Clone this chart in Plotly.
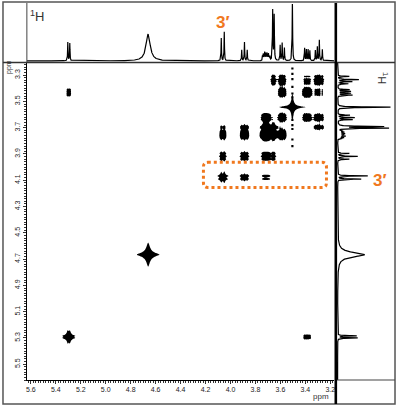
import numpy as np
import plotly.graph_objects as go

# ---------------- data ----------------
site_names = ["H-1", "HOD", "H-3'", "H-a", "H-b", "H-c", "H-d", "H-e", "H-f", "H-g"]
f2_shift = [5.296, 4.660, 4.062, 3.888, 3.712, 3.656, 3.584, 3.504, 3.384, 3.292]   # ppm, horizontal (F2)
f1_shift = [5.292, 4.666, 4.079, 3.918, 3.750, 3.697, 3.621, 3.544, 3.430, 3.338]   # ppm, vertical (F1)

mult_offsets = [
    [0.008, -0.008],
    [0.0],
    [0.012, -0.012],
    [0.022, 0.0, -0.022],
    [0.032, 0.026, 0.020, 0.014, 0.008, 0.002, -0.004, -0.010, -0.016, -0.022, -0.028],
    [0.006, -0.006],
    [0.018, 0.002, -0.016],
    [0.0],
    [0.022, 0.008, -0.006, -0.020],
    [0.028, 0.012, -0.004, -0.028],
]
mult_heights = [
    [1.0, 0.95],
    [1.0],
    [0.78, 1.0],
    [0.58, 1.0, 0.58],
    [0.6, 0.8, 0.7, 1.0, 0.85, 0.75, 0.9, 0.7, 0.8, 0.6, 0.5],
    [1.0, 0.9],
    [0.88, 1.0, 0.72],
    [1.0],
    [1.0, 0.88, 0.88, 0.8],
    [0.5, 0.68, 1.0, 0.55],
]
top_height = [0.33, 0.47, 0.51, 0.33, 0.16, 0.91, 0.32, 1.05, 0.23, 0.37]
side_height = [0.35, 0.47, 0.53, 0.35, 0.14, 0.90, 0.30, 0.92, 0.26, 0.37]
linewidth_1d = [0.002, 0.02, 0.002, 0.002, 0.0018, 0.0022, 0.002, 0.0022, 0.002, 0.002]
linewidth_2d = [0.006, 0.012, 0.0055, 0.0055, 0.0055, 0.0055, 0.0055, 0.006, 0.0055, 0.0055]

# COSY peaks: (column site [F2], row site [F1], intensity)
cosy_col = [0, 1, 2, 3, 4, 5, 6, 7, 8, 9,
            5, 9, 6, 9, 8, 9, 6, 8, 3, 4, 4, 5, 3, 5, 2, 3, 2, 4, 2, 5, 3, 0, 8, 4, 6]
cosy_row = [0, 1, 2, 3, 4, 5, 6, 7, 8, 9,
            9, 5, 9, 6, 9, 8, 8, 6, 4, 3, 5, 4, 5, 3, 3, 2, 4, 2, 5, 3, 5, 8, 0, 6, 4]
cosy_amp = [40, 55, 28, 14, 14, 24, 14, 250, 12, 12,
            10, 10, 10, 10, 3, 3, 10, 10, 10, 8, 12, 12, 6, 6, 12, 12, 8, 3, 3, 2, 3, 4, 4, 9, 9]

# t1-noise streak of the sharp singlet (F1 ppm)
t1_noise_f1 = [3.25, 3.29, 3.33, 3.39, 3.44, 3.47, 3.64, 3.68, 3.71, 3.79, 3.84]

x_tick_vals = [5.6, 5.4, 5.2, 5.0, 4.8, 4.6, 4.4, 4.2, 4.0, 3.8, 3.6, 3.4, 3.2]
y_tick_vals = [3.3, 3.5, 3.7, 3.9, 4.1, 4.3, 4.5, 4.7, 4.9, 5.1, 5.3, 5.5]

X_RANGE = [5.632, 3.168]
Y_RANGE = [5.62, 3.208]


def multiplet(axis_ppm, center, i, width, normalize=True):
    out = np.zeros_like(axis_ppm)
    for o, h in zip(mult_offsets[i], mult_heights[i]):
        out += h / (1.0 + ((axis_ppm - center - o) / width) ** 2)
    if normalize:
        out /= out.max()
    return out


# 2D map
gx = np.arange(X_RANGE[1], X_RANGE[0], 0.005)
gy = np.arange(Y_RANGE[1], Y_RANGE[0], 0.005)
z = np.zeros((gy.size, gx.size))
for c, r, a in zip(cosy_col, cosy_row, cosy_amp):
    mx = multiplet(gx, f2_shift[c], c, linewidth_2d[c])
    my = multiplet(gy, f1_shift[r], r, linewidth_2d[r])
    z += a * np.outer(my, mx)
z = np.round(np.clip(z, 0, 3), 2)

# 1D projections
tx = np.arange(X_RANGE[1], X_RANGE[0], 0.0004)
top = np.zeros_like(tx)
for i in range(len(site_names)):
    fine = np.linspace(-0.06, 0.06, 3001) + f2_shift[i]
    peakmax = multiplet(fine, f2_shift[i], i, linewidth_1d[i], normalize=False).max()
    top += top_height[i] * multiplet(tx, f2_shift[i], i, linewidth_1d[i], normalize=False) / peakmax

sy = np.arange(Y_RANGE[1], Y_RANGE[0], 0.0004)
side = np.zeros_like(sy)
for i in range(len(site_names)):
    fine = np.linspace(-0.06, 0.06, 3001) + f1_shift[i]
    peakmax = multiplet(fine, f1_shift[i], i, linewidth_1d[i], normalize=False).max()
    side += side_height[i] * multiplet(sy, f1_shift[i], i, linewidth_1d[i], normalize=False) / peakmax

# ---------------- figure ----------------
W, H = 398, 407


def px(v):
    return v / W


def py(v):
    return 1 - v / H


FONT = "Liberation Sans, Arial, sans-serif"
ORANGE = "#f0781e"

fig = go.Figure()
fig.add_trace(go.Contour(
    x=gx, y=gy, z=z, showscale=False, autocontour=False,
    contours=dict(start=1, end=1, size=1, coloring="fill", showlines=False),
    colorscale=[[0, "white"], [0.5, "white"], [0.5, "black"], [1, "black"]],
    zmin=0, zmax=2, line=dict(width=0), hoverinfo="skip", xaxis="x", yaxis="y"))
fig.add_trace(go.Scatter(
    x=[f2_shift[7]] * len(t1_noise_f1), y=t1_noise_f1, mode="markers",
    marker=dict(symbol="square", size=2.2, color="black"), hoverinfo="skip",
    xaxis="x", yaxis="y"))
fig.add_trace(go.Scatter(x=tx, y=top, mode="lines", line=dict(color="black", width=1.2),
                         hoverinfo="skip", xaxis="x2", yaxis="y2"))
fig.add_trace(go.Scatter(x=side, y=sy, mode="lines", line=dict(color="black", width=1.2),
                         hoverinfo="skip", xaxis="x3", yaxis="y3"))

axis_common = dict(showgrid=False, zeroline=False)
fig.update_layout(
    width=W, height=H, margin=dict(l=0, r=0, t=0, b=0),
    paper_bgcolor="white", plot_bgcolor="white", showlegend=False,
    font=dict(family=FONT, color="#333"),
    xaxis=dict(domain=[px(26), px(335)], range=X_RANGE, anchor="y",
               showline=True, linecolor="black", linewidth=1,
               ticks="outside", ticklen=3, tickwidth=1, tickcolor="#333",
               tickvals=x_tick_vals, ticktext=[f"{v:.1f}" for v in x_tick_vals],
               tickfont=dict(size=7, color="#222"),
               minor=dict(dtick=0.02, tick0=3.2, ticks="outside", ticklen=2, tickcolor="#333"),
               **axis_common),
    yaxis=dict(domain=[py(380), py(63)], range=Y_RANGE, anchor="x",
               showline=True, linecolor="black", linewidth=1,
               ticks="outside", ticklen=3, tickwidth=1, tickcolor="#333",
               tickvals=y_tick_vals, ticktext=[f"{v:.1f}" for v in y_tick_vals],
               tickangle=-90, tickfont=dict(size=7, color="#222"),
               minor=dict(dtick=0.02, tick0=3.3, ticks="outside", ticklen=2, tickcolor="#333"),
               **axis_common),
    xaxis2=dict(domain=[px(26), px(335)], range=X_RANGE, anchor="y2", visible=False, **axis_common),
    yaxis2=dict(domain=[py(62), py(4)], range=[-0.02, 1.0], anchor="x2", visible=False, **axis_common),
    xaxis3=dict(domain=[px(336), px(396)], range=[-0.04, 1.0], anchor="y3", visible=False, **axis_common),
    yaxis3=dict(domain=[py(380), py(63)], range=Y_RANGE, anchor="x3", visible=False, **axis_common),
)

# frames
shapes = [
    dict(type="rect", xref="paper", yref="paper", x0=px(2), x1=px(396), y0=py(404), y1=py(2),
         line=dict(color="#555", width=1.5)),
    dict(type="line", xref="paper", yref="paper", x0=px(2), x1=px(396), y0=py(62.5), y1=py(62.5),
         line=dict(color="#333", width=1.5)),
    dict(type="line", xref="paper", yref="paper", x0=px(26), x1=px(26), y0=py(62), y1=py(3),
         line=dict(color="#444", width=1)),
    dict(type="line", xref="paper", yref="paper", x0=px(336), x1=px(396), y0=py(380), y1=py(380),
         line=dict(color="#444", width=1.2)),
    dict(type="line", xref="paper", yref="paper", x0=px(336.5), x1=px(336.5), y0=py(404), y1=py(3),
         line=dict(color="black", width=2.6)),
]
# orange dotted rounded box (around the 3' row)
x0, x1, y0, y1 = 4.217, 3.231, 3.964, 4.155
rx, ry = 0.035, 0.035
path = (f"M {x0 - rx},{y0} L {x1 + rx},{y0} Q {x1},{y0} {x1},{y0 + ry} "
        f"L {x1},{y1 - ry} Q {x1},{y1} {x1 + rx},{y1} L {x0 - rx},{y1} "
        f"Q {x0},{y1} {x0},{y1 - ry} L {x0},{y0 + ry} Q {x0},{y0} {x0 - rx},{y0} Z")
shapes.append(dict(type="path", xref="x", yref="y", path=path,
                   line=dict(color=ORANGE, width=3, dash="dot")))
fig.update_layout(shapes=shapes)

ann = [
    dict(text="<sup>1</sup>H", x=px(36), y=py(16), font=dict(size=13, color="#333")),
    dict(text="3′", x=px(223), y=py(23), font=dict(size=17, color=ORANGE, family="Liberation Sans, Arial", weight="bold")),
    dict(text="3′", x=px(381), y=py(180), font=dict(size=17, color=ORANGE, family="Liberation Sans, Arial", weight="bold")),
    dict(text="<sup>1</sup>H", x=px(384), y=py(78), textangle=90, font=dict(size=11, color="#333")),
    dict(text="ppm", x=px(322), y=py(396), font=dict(size=8, color="#333")),
    dict(text="ppm", x=px(8), y=py(67), textangle=-90, font=dict(size=7, color="#333")),
]
for a in ann:
    a.update(xref="paper", yref="paper", showarrow=False, xanchor="center", yanchor="middle")
fig.update_layout(annotations=ann)

fig.write_html("out.html", config={"displayModeBar": False, "staticPlot": True},
               post_script="document.body.style.margin='0';document.body.style.padding='0';"
                           "document.body.style.overflow='hidden';")
